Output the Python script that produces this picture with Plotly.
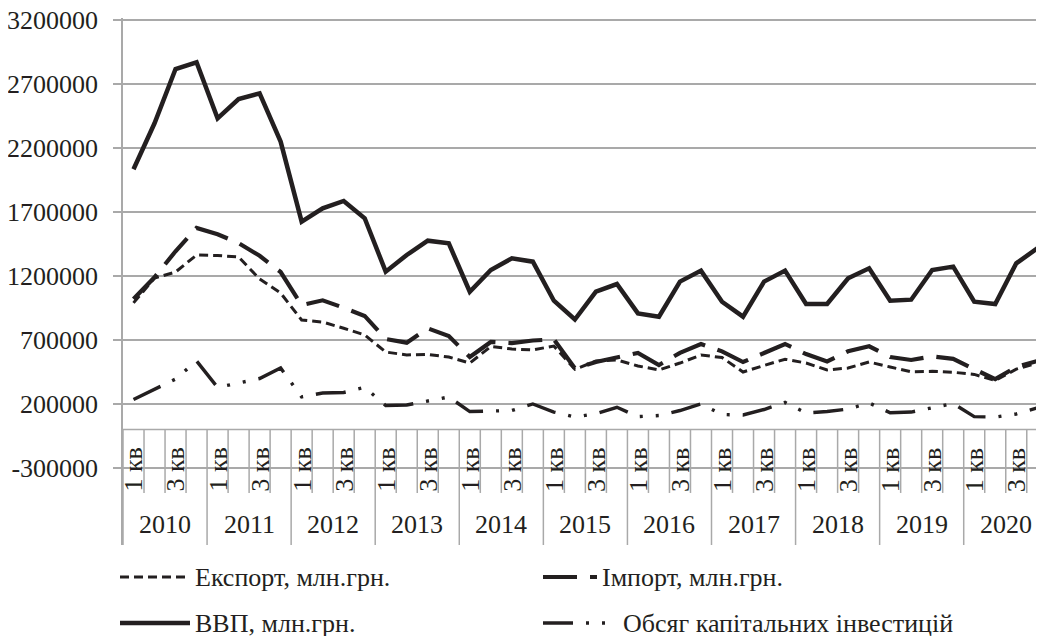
import plotly.graph_objects as go

# ---------------- data ----------------
years = ["2010", "2011", "2012", "2013", "2014", "2015", "2016", "2017", "2018", "2019", "2020"]
quarters = ["1 кв", "2 кв", "3 кв", "4 кв"]
shown_quarters = ["1 кв", "3 кв"]

export = [990000, 1184000, 1231000, 1364000, 1360000, 1348000, 1177000, 1067000,
          856000, 840000, 792000, 739000, 606000, 583000, 587000, 567000,
          520000, 649000, 630000, 622000, 653000, 471000, 536000, 544000,
          497000, 466000, 520000, 583000, 563000, 450000, 501000, 550000,
          520000, 466000, 481000, 528000, 489000, 452000, 455000, 448000,
          431000, 384000, 472000, 520000]

imports = [1020000, 1190000, 1393000, 1575000, 1526000, 1457000, 1358000, 1231000,
           973000, 1010000, 952000, 888000, 708000, 679000, 791000, 731000,
           567000, 685000, 676000, 696000, 705000, 479000, 528000, 567000,
           599000, 505000, 599000, 669000, 611000, 528000, 599000, 669000,
           590000, 533000, 612000, 651000, 567000, 544000, 572000, 553000,
           472000, 394000, 489000, 536000]

gdp = [2034000, 2393000, 2817000, 2870000, 2432000, 2583000, 2627000, 2250000,
       1625000, 1729000, 1786000, 1651000, 1234000, 1364000, 1476000, 1455000,
       1077000, 1247000, 1338000, 1312000, 1007000, 860000, 1077000, 1137000,
       908000, 882000, 1156000, 1242000, 999000, 882000, 1156000, 1242000,
       981000, 981000, 1182000, 1260000, 1007000, 1015000, 1247000, 1273000,
       999000, 981000, 1299000, 1416000]

invest = [235000, 313000, 395000, 536000, 329000, 364000, 399000, 481000,
          255000, 286000, 290000, 330000, 188000, 192000, 223000, 255000,
          141000, 145000, 149000, 200000, 137000, 98000, 125000, 174000,
          101000, 110000, 149000, 200000, 118000, 114000, 157000, 212000,
          130000, 141000, 161000, 208000, 132000, 137000, 169000, 204000,
          101000, 98000, 122000, 169000]

y_tick_values = [-300000, 200000, 700000, 1200000, 1700000, 2200000, 2700000, 3200000]
y_tick_labels = ["-300000", "200000", "700000", "1200000", "1700000", "2200000", "2700000", "3200000"]

series_names = ["Експорт, млн.грн.", "Імпорт, млн.грн.", "ВВП, млн.грн.", "Обсяг капітальних інвестицій"]

# ---------------- styling ----------------
INK = "#231f20"
GRID = "#a9a9a9"
FONT = "Liberation Serif"
FS = 26

W, H = 1044, 636
PAGE_OFF = 8                      # default page margin of the html body
ML, MR, MT, MB = 115, 8, 10, 99   # plot area: page x 123..1044, page y 18..545
PX_PER_UNIT = 7812.5              # value units per vertical pixel
Y_MIN, Y_MAX = -901600, 3200000 + 2 * PX_PER_UNIT
Y_QTICK_END = -495000     # end of quarter divider lines
Y_QLABEL = -316000        # centre of rotated quarter labels
Y_YEAR = -745000          # centre of year labels

styles = [
    dict(width=3, dash="9px,5px"),
    dict(width=4.2, dash="34px,13px"),
    dict(width=4.5, dash="solid"),
    dict(width=3.4, dash="30px,13px,3px,13px,3px,13px"),
]
series = [export, imports, gdp, invest]

n = len(gdp)
xs = list(range(n))

fig = go.Figure()
for name, vals, st in zip(series_names, series, styles):
    fig.add_trace(go.Scatter(x=xs, y=vals, mode="lines", name=name,
                             line=dict(color=INK, width=st["width"], dash=st["dash"]),
                             showlegend=False))

shapes = []
# horizontal category axis at 0
shapes.append(dict(type="line", xref="x", yref="y", x0=-0.5, x1=n, y0=0, y1=0,
                   line=dict(color=GRID, width=1.5), layer="below"))
# category dividers
for k in range(n + 1):
    yend = Y_MIN if k % 4 == 0 else Y_QTICK_END
    shapes.append(dict(type="line", xref="x", yref="y", x0=k - 0.5, x1=k - 0.5,
                       y0=0, y1=yend, line=dict(color=GRID, width=1.5), layer="below"))

annotations = []
for i in range(n):
    q = quarters[i % 4]
    if q in shown_quarters:
        annotations.append(dict(x=i, y=Y_QLABEL, xref="x", yref="y", text=q,
                                textangle=-90, showarrow=False, xshift=0,
                                font=dict(family=FONT, size=FS, color=INK),
                                xanchor="center", yanchor="middle"))
for k, yr in enumerate(years):
    annotations.append(dict(x=4 * k + 1.5, y=Y_YEAR, xref="x", yref="y", text=yr,
                            showarrow=False, font=dict(family=FONT, size=FS, color=INK),
                            xanchor="center", yanchor="middle"))

# manual legend (two columns, two rows), positions given in page pixels
pw = W - ML - MR
ph = H - MT - MB
def px_x(px):
    return (px - PAGE_OFF - ML) / pw
def px_y(py):
    return (H - MB - (py - PAGE_OFF)) / ph

legend_layout = [  # (sample start, sample end, text start, row y)
    (120, 190, 193, 577),
    (543, 597, 600, 577),
    (120, 190, 193, 623),
    (543, 613, 621, 623),
]
for name, st, (s0, s1, tx, ly) in zip(series_names, styles, legend_layout):
    shapes.append(dict(type="line", xref="paper", yref="paper",
                       x0=px_x(s0), x1=px_x(s1), y0=px_y(ly), y1=px_y(ly),
                       line=dict(color=INK, width=st["width"], dash=st["dash"])))
    annotations.append(dict(x=px_x(tx), y=px_y(ly), xref="paper", yref="paper",
                            text=name, showarrow=False, xanchor="left", yanchor="middle",
                            font=dict(family=FONT, size=FS, color=INK)))

fig.update_layout(
    width=W, height=H,
    margin=dict(l=ML, r=MR, t=MT, b=MB, pad=0, autoexpand=False),
    paper_bgcolor="white", plot_bgcolor="white",
    font=dict(family=FONT, size=FS, color=INK),
    shapes=shapes, annotations=annotations,
    xaxis=dict(range=[-0.5, 43.32], showgrid=False, zeroline=False, automargin=False,
               showticklabels=False, ticks="", showline=False, fixedrange=True),
    yaxis=dict(range=[Y_MIN, Y_MAX], tickvals=y_tick_values, ticktext=y_tick_labels,
               showgrid=True, gridcolor=GRID, gridwidth=1.5, zeroline=False,
               showline=True, linecolor=GRID, linewidth=1.5, automargin=False,
               ticks="outside", ticklen=8, tickcolor=GRID, tickwidth=1.5,
               ticklabelstandoff=10, ticklabeloverflow="allow",
               tickfont=dict(family=FONT, size=FS, color=INK), fixedrange=True),
)

fig.write_html("out.html")
